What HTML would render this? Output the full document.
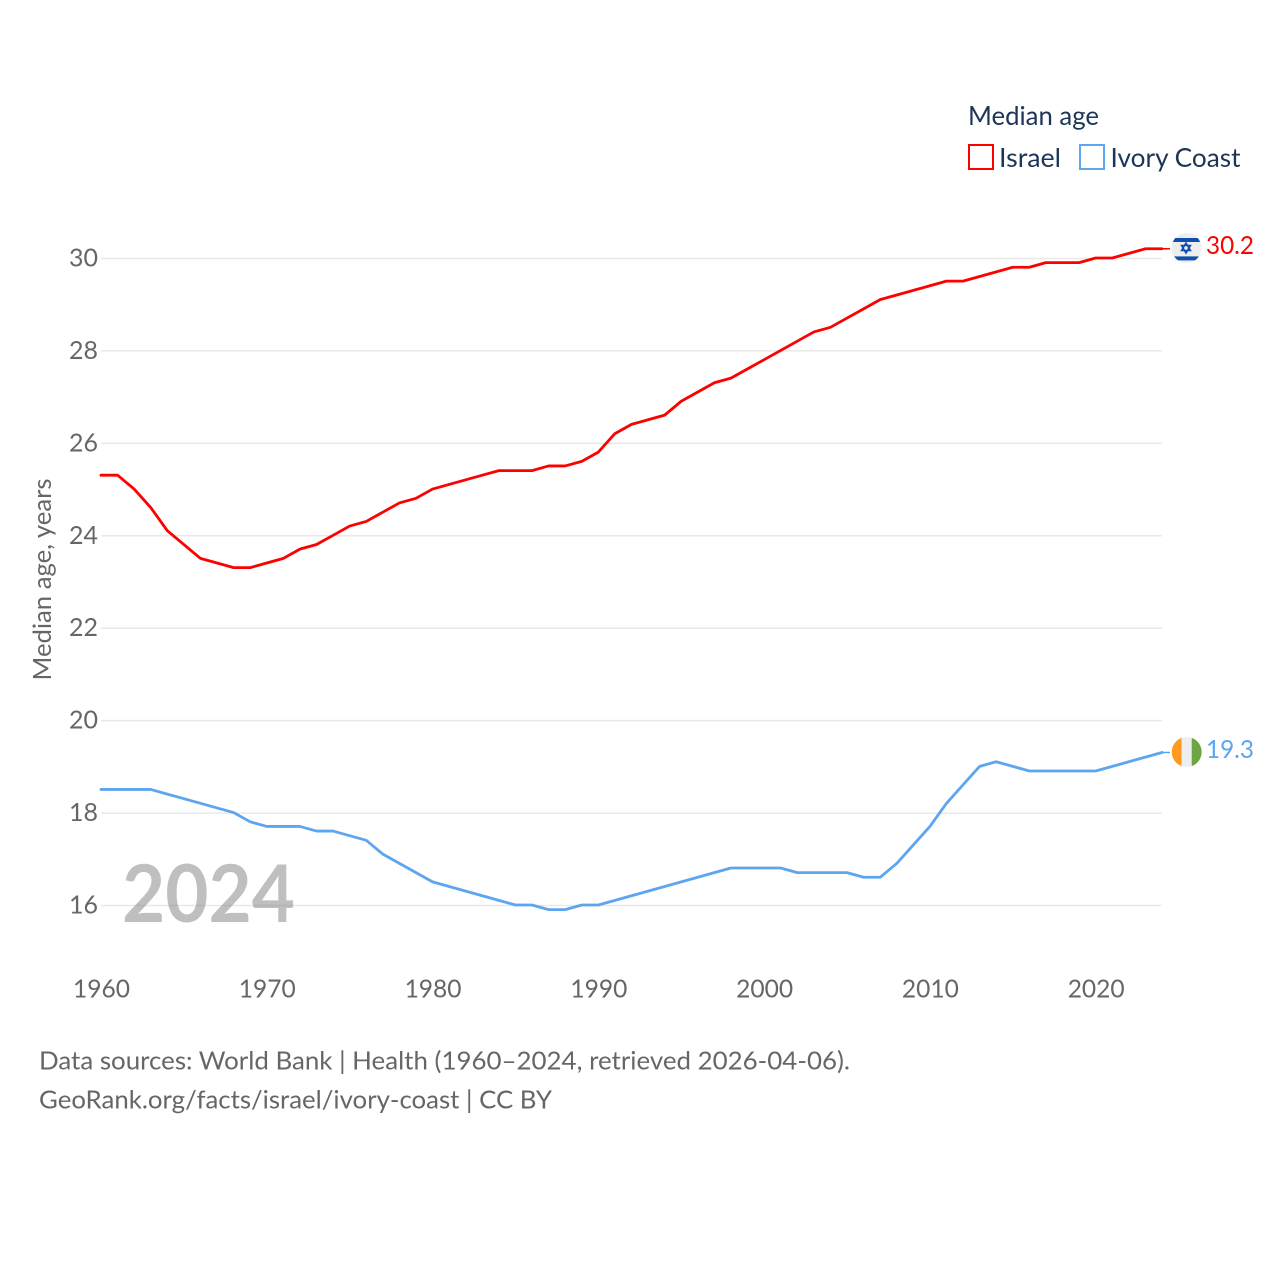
<!DOCTYPE html>
<html lang="en">
<head>
<meta charset="utf-8">
<title>Median age: Israel and Ivory Coast</title>
<style>
html,body{margin:0;padding:0;background:#fff;width:1280px;height:1280px;overflow:hidden}
svg{display:block}
text{font-family:"Lato","Carlito","Liberation Sans",sans-serif}
</style>
</head>
<body>
<svg id="chart" xmlns="http://www.w3.org/2000/svg" width="1280" height="1280" viewBox="0 0 1280 1280">
  <defs>
    <clipPath id="flag-clip-il"><circle cx="1186.5" cy="248" r="15"/></clipPath>
    <clipPath id="flag-clip-ci"><circle cx="1186.7" cy="752" r="15"/></clipPath>
  </defs>
  <rect x="0" y="0" width="1280" height="1280" fill="#fff"/>
  <g id="grid"></g>
  <g id="yticks"></g>
  <g id="xticks"></g>
  <text transform="translate(51,680.5) rotate(-90)" font-size="25" fill="#666" textLength="202" lengthAdjust="spacingAndGlyphs">Median age, years</text>
  <text x="122" y="922" font-size="80" font-weight="700" fill="#777" fill-opacity="0.47" textLength="173" lengthAdjust="spacingAndGlyphs">2024</text>
  <g id="series"></g>

  <g>
    <text x="968" y="125" font-size="26" fill="#1d3557" textLength="131" lengthAdjust="spacingAndGlyphs">Median age</text>
    <g>
      <rect x="969" y="145" width="24" height="24" fill="#fff" stroke="#ff0000" stroke-width="2"/>
      <text x="999" y="167" font-size="26" fill="#1d3557" textLength="62" lengthAdjust="spacingAndGlyphs">Israel</text>
    </g>
    <g>
      <rect x="1080" y="145" width="24" height="24" fill="#fff" stroke="#5da5ee" stroke-width="2"/>
      <text x="1110.5" y="167" font-size="26" fill="#1d3557" textLength="130" lengthAdjust="spacingAndGlyphs">Ivory Coast</text>
    </g>
  </g>

  <g clip-path="url(#flag-clip-il)">
    <rect x="1170" y="232" width="33" height="32" fill="#eeeeee"/>
    <rect x="1170" y="238" width="33" height="4" fill="#0f4fb0"/>
    <rect x="1170" y="256.4" width="33" height="4" fill="#0f4fb0"/>
    <path d="M1186 243l4.4 7.5h-8.8zM1186 253l4.4-7.5h-8.8z" fill="none" stroke="#0f4fb0" stroke-width="1.6"/>
  </g>
  <g clip-path="url(#flag-clip-ci)">
    <rect x="1171" y="737" width="10.7" height="30" fill="#ff9a1f"/>
    <rect x="1181.7" y="737" width="10" height="30" fill="#eeeeee"/>
    <rect x="1191.7" y="737" width="11" height="30" fill="#6da544"/>
  </g>

  <text id="value-israel" x="1206" y="254" font-size="25" fill="#ff0000" textLength="48" lengthAdjust="spacingAndGlyphs"></text>
  <text id="value-ivory" x="1206" y="758" font-size="25" fill="#5da5ee" textLength="48" lengthAdjust="spacingAndGlyphs"></text>

  <text x="39" y="1069.5" font-size="25" fill="#666" textLength="811" lengthAdjust="spacingAndGlyphs">Data sources: World Bank | Health (1960–2024, retrieved 2026-04-06).</text>
  <text x="39" y="1108.5" font-size="25" fill="#666" textLength="513" lengthAdjust="spacingAndGlyphs">GeoRank.org/facts/israel/ivory-coast | CC BY</text>
</svg>
<script>
const startYear = 1960;
const yTickValues = [16, 18, 20, 22, 24, 26, 28, 30];
const xTickValues = [1960, 1970, 1980, 1990, 2000, 2010, 2020];
const israelValues = [25.3,25.3,25.0,24.6,24.1,23.8,23.5,23.4,23.3,23.3,23.4,23.5,23.7,23.8,24.0,24.2,24.3,24.5,24.7,24.8,25.0,25.1,25.2,25.3,25.4,25.4,25.4,25.5,25.5,25.6,25.8,26.2,26.4,26.5,26.6,26.9,27.1,27.3,27.4,27.6,27.8,28.0,28.2,28.4,28.5,28.7,28.9,29.1,29.2,29.3,29.4,29.5,29.5,29.6,29.7,29.8,29.8,29.9,29.9,29.9,30.0,30.0,30.1,30.2,30.2];
const ivoryCoastValues = [18.5,18.5,18.5,18.5,18.4,18.3,18.2,18.1,18.0,17.8,17.7,17.7,17.7,17.6,17.6,17.5,17.4,17.1,16.9,16.7,16.5,16.4,16.3,16.2,16.1,16.0,16.0,15.9,15.9,16.0,16.0,16.1,16.2,16.3,16.4,16.5,16.6,16.7,16.8,16.8,16.8,16.8,16.7,16.7,16.7,16.7,16.6,16.6,16.9,17.3,17.7,18.2,18.6,19.0,19.1,19.0,18.9,18.9,18.9,18.9,18.9,19.0,19.1,19.2,19.3];

const SVG_NS = 'http://www.w3.org/2000/svg';
const xScale = function (year) { return 101 + (year - 1960) * (1162 - 101) / 64; };
const yScale = function (value) { return 258.5 + (30 - value) * (905.5 - 258.5) / 14; };
const lineOffset = -0.5;

function make(tag, parent, attrs, text) {
  const el = document.createElementNS(SVG_NS, tag);
  Object.keys(attrs).forEach(function (k) { el.setAttribute(k, attrs[k]); });
  if (text !== undefined) el.textContent = text;
  parent.appendChild(el);
  return el;
}

const gridGroup = document.getElementById('grid');
const yTickGroup = document.getElementById('yticks');
const xTickGroup = document.getElementById('xticks');
const seriesGroup = document.getElementById('series');

yTickValues.forEach(function (v) {
  const line = make('line', gridGroup, { x1: 101, x2: 1162, y1: yScale(v), y2: yScale(v), stroke: '#e9e9e9', 'stroke-width': 1.5 });
  
  
  const label = make('text', yTickGroup, { x: 98, y: yScale(v) + 8, 'font-size': 25, fill: '#666', 'text-anchor': 'end', textLength: 29, lengthAdjust: 'spacingAndGlyphs' }, String(v));
  
  
});

xTickValues.forEach(function (y) {
  const label = make('text', xTickGroup, { x: xScale(y) + 0.5, y: 997.5, 'font-size': 25, fill: '#666', 'text-anchor': 'middle', textLength: 57, lengthAdjust: 'spacingAndGlyphs' }, String(y));
  
  
});

function drawSeries(values, color) {
  const pts = values.map(function (v, i) { return xScale(startYear + i).toFixed(2) + ',' + (yScale(v) + lineOffset).toFixed(2); });
  return make('polyline', seriesGroup, { points: pts.join(' '), fill: 'none', stroke: color, 'stroke-width': 2.8, 'stroke-linejoin': 'round', 'stroke-linecap': 'round' });
}

const israelLine = drawSeries(israelValues, '#ff0000');


const ivoryLine = drawSeries(ivoryCoastValues, '#5da5ee');



const israelLast = israelValues[israelValues.length - 1];
const ivoryLast = ivoryCoastValues[ivoryCoastValues.length - 1];
const israelConnector = make('line', seriesGroup, { x1: 1162, x2: 1170, y1: yScale(israelLast) + lineOffset, y2: yScale(israelLast) + lineOffset, stroke: '#ff0000', 'stroke-width': 1.5 });


const ivoryConnector = make('line', seriesGroup, { x1: 1162, x2: 1170, y1: yScale(ivoryLast) + lineOffset, y2: yScale(ivoryLast) + lineOffset, stroke: '#5da5ee', 'stroke-width': 1.5 });



document.getElementById('value-israel').textContent = israelLast.toFixed(1);
document.getElementById('value-ivory').textContent = ivoryLast.toFixed(1);
</script>
</body>
</html>
